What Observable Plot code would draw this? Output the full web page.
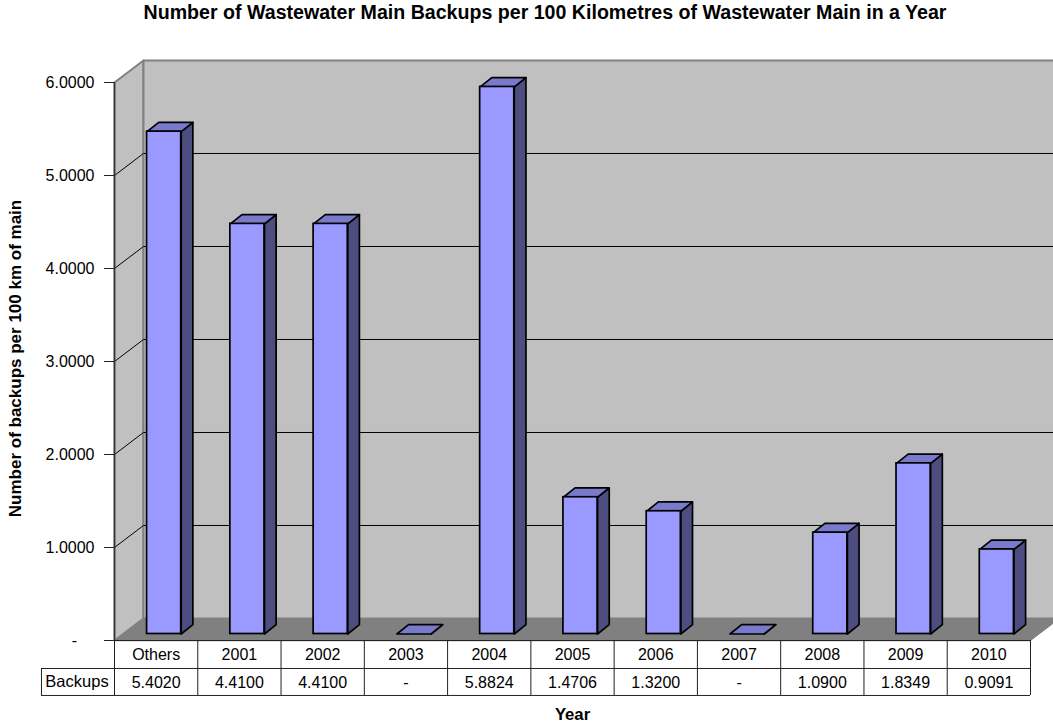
<!DOCTYPE html>
<html>
<head>
<meta charset="utf-8">
<script src="https://cdn.jsdelivr.net/npm/d3@7"></script>
<script src="https://cdn.jsdelivr.net/npm/@observablehq/plot@0.6"></script>
<style>
  html, body { margin: 0; padding: 0; background: #fff; overflow: hidden; }
  #title { height: 40px; width: 1053px; box-sizing: border-box; padding-left: 37px; text-align: center; white-space: nowrap;
    font: bold 19.6px "Liberation Sans", Arial, sans-serif; color: #000; line-height: 24px; }
  svg { display: block; }
</style>
</head>
<body>
<div id="title">Number of Wastewater Main Backups per 100 Kilometres of Wastewater Main in a Year</div>
<div id="chart"></div>
<script>
const categories = ["Others","2001","2002","2003","2004","2005","2006","2007","2008","2009","2010"];
const backups = [5.4020,4.4100,4.4100,0,5.8824,1.4706,1.3200,0,1.0900,1.8349,0.9091];
const yTicks = [0,1,2,3,4,5,6];
const gridTicks = [1,2,3,4,5];
const rowLabel = "Backups";

// depth of the 3D box and of a bar, in scale units
const wallDX = 0.348, wallDY = 0.2366;
const barDX = 0.14, barDY = 0.1;
const barL = 0.295, barR = 0.705;
const n = categories.length, fontFamily = '"Liberation Sans", Arial, sans-serif';
const row1 = -0.301, row2 = -0.591, rowLeft = -0.877;
const fmt = v => v === 0 ? "-" : d3.format(".4f")(v);

const poly = (id, pts) => pts.map(([x, y]) => ({id, x, y}));
const wallPoly = [
  ...poly("left", [[0,0],[0,6],[wallDX,6+wallDY],[wallDX,wallDY]]),
  ...poly("back", [[wallDX,wallDY],[wallDX,6+wallDY],[n+wallDX,6+wallDY],[n+wallDX,wallDY]])
];
const floorPoly = poly("floor", [[0,0],[wallDX,wallDY],[n+wallDX,wallDY],[n,0]]);
const gridLines = gridTicks.flatMap(t => poly(t, [[0,t],[wallDX,t+wallDY],[n+wallDX,t+wallDY]]));
const sidePoly = backups.flatMap((v,i) => poly(i, [[i+barR,0],[i+barR,v],[i+barR+barDX,v+barDY],[i+barR+barDX,barDY]]));
const topPoly = backups.flatMap((v,i) => poly(i, [[i+barL,v],[i+barR,v],[i+barR+barDX,v+barDY],[i+barL+barDX,v+barDY]]));
const bars = backups.map((v,i) => ({i, v}));
const cells = categories.map((c,i) => ({c, i, v: backups[i]}));

const barOffset = {dx: 8, dy: -6.5};

const plot = Plot.plot({
  width: 1053, height: 687,
  marginLeft: 114, marginRight: 23, marginTop: 42, marginBottom: 87,
  x: {domain: [0, n], axis: null},
  y: {domain: [0, 6], axis: null},
  style: {fontFamily, fontSize: "16px", background: "#fff", color: "#000"},
  marks: [
    Plot.line(wallPoly, {x:"x", y:"y", z:"id", curve:"linear-closed", fill:"#c0c0c0", stroke:"#808080", strokeWidth:2}),
    Plot.line(floorPoly, {x:"x", y:"y", z:"id", curve:"linear-closed", fill:"#808080", stroke:"#808080", strokeWidth:1}),
    Plot.line(gridLines, {x:"x", y:"y", z:"id", stroke:"#000", strokeWidth:1}),
    Plot.ruleX([0], {y1:0, y2:6, stroke:"#333", strokeWidth:1.5}),
    Plot.axisY(yTicks, {anchor:"left", tickSize:10, tickPadding:10, stroke:"#222", tickFormat:v => v === 0 ? "" : d3.format(".4f")(v), label:null}),
    Plot.text(["-"], {x:0, y:0, dx:-40, textAnchor:"middle"}),
    Plot.line(sidePoly, {x:"x", y:"y", z:"id", curve:"linear-closed", fill:"#4d4d80", stroke:"#000", strokeWidth:1.7, strokeLinejoin:"round", ...barOffset}),
    Plot.line(topPoly, {x:"x", y:"y", z:"id", curve:"linear-closed", fill:"#7a7acc", stroke:"#000", strokeWidth:1.7, strokeLinejoin:"round", ...barOffset}),
    Plot.rect(bars, {x1:d=>d.i+barL, x2:d=>d.i+barR, y1:0, y2:"v", fill:"#9999ff", stroke:"#000", strokeWidth:1.7, ...barOffset}),
    // data table
    Plot.ruleY([0], {x1:0, x2:n, stroke:"#222", strokeWidth:1}),
    Plot.ruleY([row1, row2], {x1:rowLeft, x2:n, stroke:"#222", strokeWidth:1}),
    Plot.ruleX([row1], {x:0, y1:row1, y2:row2, stroke:"#222", strokeWidth:1}),
    Plot.ruleX(d3.range(0, n+1), {y1:0, y2:row2, stroke:"#222", strokeWidth:1}),
    Plot.ruleX([rowLeft], {y1:row1, y2:row2, stroke:"#222", strokeWidth:1}),
    Plot.text(cells, {x:d=>d.i+0.5, y:row1/2, text:"c", fill:"#000"}),
    Plot.text(cells, {x:d=>d.i+0.5, y:(row1+row2)/2, dy:0.5, text:d=>fmt(d.v), fill:"#000"}),
    Plot.text([rowLabel], {x:rowLeft/2, dx:-1, y:(row1+row2)/2, fontSize:16.5, fill:"#000"}),
    // axis titles
    Plot.text(["Number of backups per 100 km of main"], {frameAnchor:"left", textAnchor:"middle", dx:-99, dy:-3, rotate:-90, fontWeight:"bold", fontSize:17, fill:"#000"}),
    Plot.text(["Year"], {x:n/2, y:row2, dy:19, fontWeight:"bold", fontSize:16.7, fill:"#000"})
  ]
});
document.getElementById("chart").appendChild(plot);
</script>
</body>
</html>
